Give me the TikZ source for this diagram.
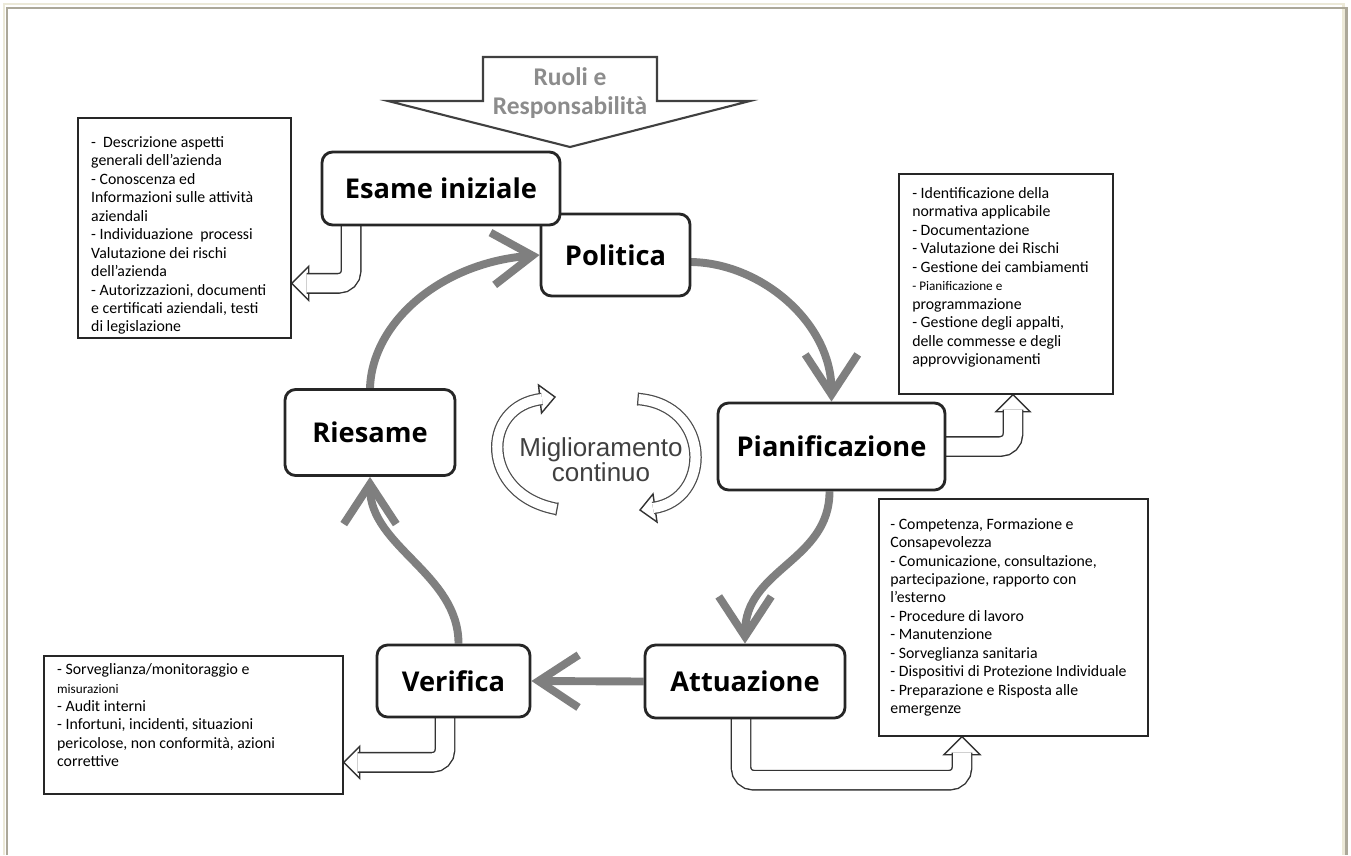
\documentclass[tikz,border=0pt]{standalone}
\usepackage{fontspec}
\setmainfont{Carlito}
\newfontfamily\stagefont{Open Sans}
\newfontfamily\swirlfont{Liberation Sans}
\usetikzlibrary{arrows.meta,calc,backgrounds}

\definecolor{frameLight}{HTML}{ECE9D8}
\definecolor{frameDark}{HTML}{ACA899}
\definecolor{cycGray}{HTML}{7F7F7F}
\definecolor{ruoliGray}{HTML}{8C8C8C}

\begin{document}
\begin{tikzpicture}[x=0.02cm,y=-0.02cm,
  stage/.style={draw=black!85,line width=1.6pt,rounded corners=6pt,fill=white,inner sep=0pt,
    font=\stagefont\bfseries\fontsize{15.5}{18}\selectfont},
  note/.style={draw=black!85,line width=1pt,fill=white,anchor=north west,align=flush left,
    inner xsep=7.5pt,inner ysep=0pt,font=\fontsize{9}{10.5}\selectfont},
  cyc/.style={line width=4.5pt,draw=cycGray,-{Straight Barb[length=0.8cm,width=1.05cm]}},
  hollow/.style={draw=black!80,line width=0.8pt,double=white,double distance=0.36cm,rounded corners=0.25cm},
  tipbox/.style={draw=black!80,line width=0.8pt,fill=white},
  swirl/.style={draw=black!70,line width=0.7pt,double=white,double distance=0.2cm}]
  \useasboundingbox (0,0) rectangle (1351,855);

  % frame of the page
  \draw[frameLight,line width=1.7pt] (4,855) -- (4,4) -- (1343,4) -- (1343,855);
  \draw[frameDark,line width=1.7pt] (7,855) -- (7,8) -- (1346,8) -- (1346,855);

  % roles arrow on top
  \draw[black!75,line width=1.2pt,fill=white,line join=miter]
    (483,57) -- (483,101) -- (388,101) -- (570,147) -- (750,101) -- (657,101) -- (657,57) -- cycle;
  \node[align=center,text=ruoliGray,font=\bfseries\fontsize{14.5}{17}\selectfont] (ruoli) at (570,93)
    {Ruoli e\\Responsabilità};

  % stages of the cycle
  \node[stage,minimum width=2.98cm,minimum height=1.64cm] (politica) at (615.5,255) {Politica};
  \node[stage,minimum width=4.76cm,minimum height=1.46cm] (esame) at (441,188.5) {Esame iniziale};
  \node[stage,minimum width=4.54cm,minimum height=1.74cm] (pianif) at (831.5,446.5) {Pianificazione};
  \node[stage,minimum width=4.0cm,minimum height=1.46cm] (attuaz) at (745,681.5) {Attuazione};
  \node[stage,minimum width=3.06cm,minimum height=1.44cm] (verifica) at (453.5,681) {Verifica};
  \node[stage,minimum width=3.4cm,minimum height=1.72cm] (riesame) at (370,432.5) {Riesame};

  \node[align=center,text=black!75,font=\swirlfont\fontsize{14.8}{14.3}\selectfont] (migl) at (601,459.5)
    {Miglioramento\\continuo};

  % lists
  \node[note,text width=106pt,minimum width=4.26cm,minimum height=4.4cm] (esameList) at (77,117)
    {\rule{0pt}{15pt}-~ Descrizione aspetti\\generali dell’azienda\\- Conoscenza ed\\Informazioni sulle attività\\aziendali\\
     - Individuazione~ processi\\Valutazione dei rischi\\dell’azienda\\- Autorizzazioni, documenti\\
     e certificati aziendali, testi\\di legislazione};
  \node[note,text width=106.5pt,minimum width=4.28cm,minimum height=4.4cm] (pianifList) at (898,173)
    {- Identificazione della\\normativa applicabile\\- Documentazione\\- Valutazione dei Rischi\\
     - Gestione dei cambiamenti\\{\fontsize{7.5}{10.5}\selectfont - Pianificazione e}\\programmazione\\
     - Gestione degli appalti,\\delle commesse e degli\\approvvigionamenti\rule[-9pt]{0pt}{9pt}};
  \node[note,inner xsep=6.5pt,text width=140pt,minimum width=5.38cm,minimum height=4.74cm] (attuazList) at (878,498)
    {- Competenza, Formazione e\\Consapevolezza\\- Comunicazione, consultazione,\\partecipazione, rapporto con\\
     l’esterno\\- Procedure di lavoro\\- Manutenzione\\- Sorveglianza sanitaria\\
     \mbox{- Dispositivi di Protezione Individuale}\\- Preparazione e Risposta alle\\emergenze};
  \node[note,text width=155pt,minimum width=5.98cm,minimum height=2.76cm] (verificaList) at (43,655)
    {- Sorveglianza/monitoraggio e\\{\fontsize{7.5}{10.5}\selectfont misurazioni}\\- Audit interni\\
     - Infortuni, incidenti, situazioni\\pericolose, non conformità, azioni\\correttive\rule[-11pt]{0pt}{11pt}};

  \begin{scope}[on background layer]
    % cycle arrows
    \draw[cyc] (riesame.north) .. controls +(2,-65) and +(-100,8) .. (politica.west);
    \draw[cyc] ($(politica.east)+(-2,7)$) .. controls +(70,0) and +(0,-80) .. (pianif.north);
    \draw[cyc] ($(pianif.south)+(-2,0)$) .. controls +(0,70) and +(0,-75) .. (attuaz.north);
    \draw[cyc] (attuaz.west) -- (verifica.east);
    \draw[cyc] ($(verifica.north)+(5,0)$) .. controls +(0,-70) and +(0,70) .. (riesame.south);

    % hollow arrows to the lists
    \coordinate (tipA) at ($(esameList.east)+(0,55.5)$);
    \draw[tipbox] (tipA) -- ++(17,-17) -- ++(0,34) -- cycle;
    \draw[hollow] ($(esame.south west)+(30.5,-2)$) |- ($(tipA)+(15,0)$);

    \coordinate (tipB) at ($(pianifList.south west)+(115,0)$);
    \draw[tipbox] (tipB) -- ++(-17,17) -- ++(34,0) -- cycle;
    \draw[hollow] ($(pianif.east)+(-2,0)$) -| ($(tipB)+(0,15)$);

    \coordinate (tipC) at ($(verificaList.east)+(0,37.5)$);
    \draw[tipbox] (tipC) -- ++(16,-16) -- ++(0,32) -- cycle;
    \draw[hollow] ($(verifica.south)+(-8.5,-2)$) |- ($(tipC)+(14,0)$);

    \coordinate (tipD) at ($(attuazList.south west)+(84,0)$);
    \draw[tipbox] (tipD) -- ++(-18,18) -- ++(36,0) -- cycle;
    \draw[hollow] ($(attuaz.south)+(-4,-2)$) |- ($(tipD)+(0,43.5)$) -- ($(tipD)+(0,16)$);

    % continuous improvement swirl
    \draw[tipbox] (555,397) -- (538.5,385) -- (541.5,413) -- cycle;
    \draw[swirl] (557,509) .. controls (480,495) and (480,406) .. (542,399);
    \draw[black!70,line width=0.7pt] (558.2,502.5) -- (555.8,515.5);
    \draw[tipbox] (640,510) -- (653,494) -- (657,522) -- cycle;
    \draw[swirl] (638,399) .. controls (712,405) and (712,500) .. (653,508);
    \draw[black!70,line width=0.7pt] (638.5,392.5) -- (637.5,405.5);
  \end{scope}
\end{tikzpicture}
\end{document}
